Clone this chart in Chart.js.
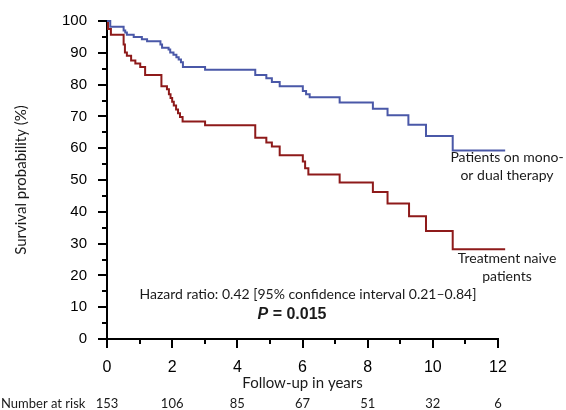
<!DOCTYPE html>
<html>
<head>
<meta charset="utf-8">
<script src="https://cdn.jsdelivr.net/npm/chart.js@4/dist/chart.umd.min.js"></script>
<style>
    body { margin: 0; background: #fff; }
    #wrap { width: 566px; height: 410px; }
</style>
</head>
<body>
<div id="wrap"><canvas id="kmChart" width="566" height="410"></canvas></div>
<script>
// Kaplan-Meier steps (years, survival %)
const monoTimes = [0, 0.1, 0.51, 0.56, 0.61, 0.82, 1.07, 1.23, 1.64, 1.69, 1.89, 1.94, 2.04, 2.13, 2.2, 2.27, 2.33, 3.01, 4.55, 4.89, 5.06, 5.3, 6.01, 6.11, 6.22, 7.14, 8.16, 8.61, 9.25, 9.79, 10.61, 12.22];
const monoSurv = [100, 98.2, 97.0, 96.4, 95.7, 95.0, 94.3, 93.6, 92.6, 91.6, 91.0, 90.1, 89.4, 88.6, 87.9, 87.0, 85.5, 84.7, 83.0, 82.0, 80.8, 79.5, 78.0, 77.0, 76.0, 74.4, 72.4, 70.4, 67.4, 63.8, 59.3, 59.3];

const naiveTimes = [0, 0.03, 0.12, 0.51, 0.55, 0.61, 0.74, 0.87, 1.02, 1.17, 1.67, 1.84, 1.9, 1.95, 2.0, 2.05, 2.12, 2.18, 2.24, 2.32, 3.01, 4.55, 4.89, 5.06, 5.3, 6.01, 6.08, 6.18, 7.14, 8.16, 8.61, 9.27, 9.79, 10.61, 12.22];
const naiveSurv = [100, 97.5, 95.7, 92.6, 90.1, 89.1, 87.6, 86.6, 85.5, 83.0, 79.5, 78.5, 77.0, 75.8, 74.6, 73.4, 72.2, 71.0, 69.8, 68.4, 67.2, 63.3, 61.8, 60.5, 57.8, 55.8, 53.7, 51.7, 49.2, 46.2, 42.6, 38.6, 34.0, 28.2, 28.2];

// number at risk table
const riskTimes = [0, 2, 4, 6, 8, 10, 12];
const riskCounts = [153, 106, 85, 67, 51, 32, 6];

const BLUE = '#4a58a8';
const RED = '#8e1a1a';
const TEXT_FONT = 'Lato, "Noto Sans", sans-serif';
const TICK_FONT = '"Liberation Sans", Arial, sans-serif';

function toPoints(times, surv) {
    return times.map((t, i) => ({ x: t, y: surv[i] }));
}

// outward tick marks, long on labelled values, short in between
const tickMarks = {
    id: 'tickMarks',
    afterDraw(chart) {
        const c = chart.ctx;
        const xs = chart.scales.x;
        const ys = chart.scales.y;
        c.save();
        c.strokeStyle = '#000';
        c.lineWidth = 2;
        c.beginPath();
        for (let v = 0; v <= 12; v++) {
            const px = Math.round(xs.getPixelForValue(v));
            const len = v % 2 === 0 ? 9 : 5;
            c.moveTo(px, xs.top);
            c.lineTo(px, xs.top + len);
        }
        for (let v = 0; v <= 100; v += 5) {
            const py = Math.round(ys.getPixelForValue(v));
            const len = v % 10 === 0 ? 9 : 5;
            c.moveTo(ys.right, py);
            c.lineTo(ys.right - len, py);
        }
        c.stroke();
        c.restore();
    }
};

// labels, annotations and risk table
const annotations = {
    id: 'annotations',
    afterDraw(chart) {
        const c = chart.ctx;
        const xs = chart.scales.x;
        c.save();
        c.fillStyle = '#1a1a1a';
        c.textBaseline = 'middle';

        c.font = '14px ' + TEXT_FONT;
        c.textAlign = 'center';
        c.fillText('Patients on mono-', 507, 157);
        c.fillText('or dual therapy', 507, 175);
        c.fillText('Treatment naive', 507, 258);
        c.fillText('patients', 507, 276);

        c.fillText('Hazard ratio: 0.42 [95% confidence interval 0.21\u20130.84]', 308, 294);

        // P = 0.015 with italic P
        c.font = 'bold italic 16px ' + TICK_FONT;
        const pW = c.measureText('P').width;
        c.font = 'bold 16px ' + TICK_FONT;
        const restW = c.measureText(' = 0.015').width;
        let x0 = 292 - (pW + restW) / 2;
        c.textAlign = 'left';
        c.font = 'bold italic 16px ' + TICK_FONT;
        c.fillText('P', x0, 315);
        c.font = 'bold 16px ' + TICK_FONT;
        c.fillText(' = 0.015', x0 + pW, 315);

        // axis titles
        c.font = '15px ' + TEXT_FONT;
        c.textAlign = 'center';
        c.fillText('Follow-up in years', (xs.left + xs.right) / 2, 383);
        c.save();
        c.translate(21, (chart.chartArea.top + chart.chartArea.bottom) / 2);
        c.rotate(-Math.PI / 2);
        c.fillText('Survival probability (%)', 0, 0);
        c.restore();

        // number at risk
        c.font = '13px ' + TEXT_FONT;
        c.textAlign = 'left';
        c.fillText('Number at risk', 1, 404);
        c.textAlign = 'center';
        riskTimes.forEach((t, i) => {
            c.fillText(String(riskCounts[i]), xs.getPixelForValue(t), 404);
        });
        c.restore();
    }
};

const kmChart = new Chart(document.getElementById('kmChart').getContext('2d'), {
    type: 'line',
    data: {
        datasets: [{
            label: 'Patients on mono- or dual therapy',
            data: toPoints(monoTimes, monoSurv),
            borderColor: BLUE,
            borderWidth: 2,
            pointRadius: 0,
            stepped: 'before',
            fill: false,
            clip: false
        }, {
            label: 'Treatment naive patients',
            data: toPoints(naiveTimes, naiveSurv),
            borderColor: RED,
            borderWidth: 2,
            pointRadius: 0,
            stepped: 'before',
            fill: false,
            clip: false
        }]
    },
    options: {
        responsive: false,
        animation: false,
        layout: { padding: { left: 0, top: 9, right: 68, bottom: 0 } },
        plugins: {
            legend: { display: false },
            tooltip: { enabled: false }
        },
        scales: {
            x: {
                type: 'linear',
                min: 0,
                max: 12,
                afterFit(scale) { scale.height = 71; },
                grid: { display: false },
                border: { display: true, color: '#000', width: 2 },
                ticks: {
                    stepSize: 2,
                    padding: 11,
                    color: '#000',
                    font: { family: TICK_FONT, size: 16 }
                }
            },
            y: {
                min: 0,
                max: 100,
                afterFit(scale) { scale.width = 107; },
                grid: { display: false },
                border: { display: true, color: '#000', width: 2 },
                ticks: {
                    stepSize: 10,
                    padding: 12,
                    color: '#000',
                    font: { family: TICK_FONT, size: 15 }
                }
            }
        }
    },
    plugins: [tickMarks, annotations]
});
</script>
</body>
</html>
